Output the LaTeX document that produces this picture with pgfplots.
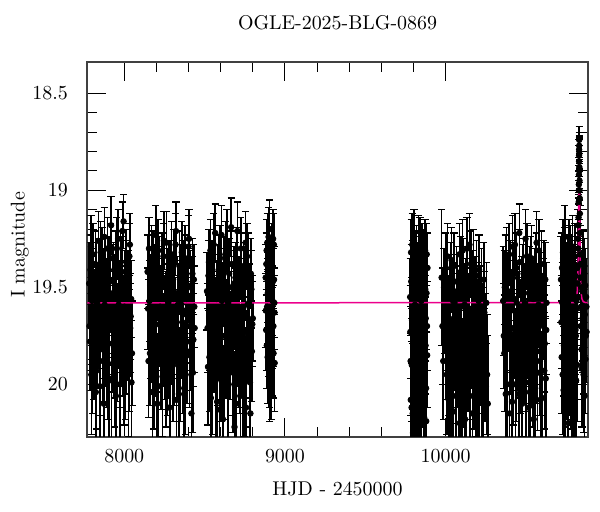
\documentclass[border=0pt]{standalone}
\usepackage{pgfplots}
\usepackage{pgfplotstable}
\pgfplotsset{compat=1.18}

% OGLE I-band photometry: HJD-2450000, I mag, error
\pgfplotstableread{
x y e
7782 19.48 0.21
7787 19.78 0.25
7793 19.29 0.16
7798 19.65 0.22
7803 19.87 0.28
7809 19.52 0.19
7814 19.74 0.24
7820 19.38 0.17
7826 19.93 0.30
7831 19.58 0.20
7837 19.69 0.23
7842 19.43 0.18
7848 20.01 0.33
7853 19.32 0.16
7859 19.61 0.21
7865 19.82 0.27
7870 19.49 0.19
7876 19.24 0.15
7881 19.76 0.25
7887 19.67 0.22
7893 19.55 0.20
7898 19.89 0.29
7904 19.41 0.17
7909 19.72 0.23
7915 19.35 0.18
7921 19.98 0.31
7926 19.63 0.21
7932 19.46 0.19
7937 19.81 0.26
7943 19.53 0.20
7948 20.06 0.35
7954 19.30 0.16
7960 19.70 0.22
7965 19.59 0.21
7971 19.85 0.27
7976 19.39 0.18
7982 19.75 0.24
7988 19.21 0.15
7993 19.66 0.22
7999 19.91 0.30
8004 19.51 0.20
8010 19.79 0.26
8015 19.44 0.18
8021 19.62 0.21
8026 19.95 0.32
8032 19.34 0.17
8037 19.71 0.23
8043 19.56 0.20
8048 19.84 0.27
7784 19.70 0.23
7790 19.41 0.18
7795 19.95 0.31
7800 19.57 0.20
7806 19.33 0.16
7811 19.82 0.26
7817 19.62 0.21
7823 20.04 0.34
7828 19.45 0.18
7834 19.77 0.25
7839 19.26 0.15
7845 19.66 0.22
7850 19.88 0.28
7856 19.51 0.19
7862 19.36 0.17
7867 19.73 0.24
7873 20.10 0.36
7878 19.59 0.21
7884 19.43 0.18
7890 19.85 0.27
7895 19.30 0.16
7901 19.64 0.22
7906 19.97 0.31
7912 19.53 0.20
7918 19.18 0.15
7923 19.79 0.25
7929 19.47 0.19
7934 19.68 0.22
7940 19.92 0.30
7945 19.38 0.17
7951 19.61 0.21
7957 19.83 0.26
7962 19.25 0.15
7968 19.56 0.20
7973 20.00 0.33
7979 19.71 0.23
7985 19.42 0.18
7990 19.80 0.26
7996 19.16 0.14
8001 19.60 0.21
8007 19.89 0.29
8012 19.37 0.17
8018 19.74 0.24
8023 19.50 0.19
8029 19.86 0.28
8035 19.28 0.16
8040 19.65 0.22
8045 19.99 0.32
8145 19.42 0.19
8151 19.88 0.29
8157 19.57 0.21
8163 19.73 0.24
8169 19.36 0.18
8175 20.04 0.33
8181 19.62 0.21
8187 19.47 0.19
8193 19.80 0.26
8199 19.55 0.20
8205 20.10 0.36
8211 19.31 0.16
8217 19.69 0.22
8223 19.60 0.21
8229 19.86 0.27
8235 19.40 0.18
8241 19.77 0.24
8247 19.26 0.15
8253 19.66 0.22
8259 19.92 0.30
8265 19.50 0.20
8271 19.81 0.26
8277 19.45 0.18
8283 19.63 0.21
8289 19.97 0.32
8295 19.33 0.17
8301 19.72 0.23
8307 19.56 0.20
8313 19.84 0.27
8319 19.28 0.16
8325 20.08 0.35
8331 19.53 0.19
8337 19.74 0.23
8343 19.39 0.18
8349 19.90 0.29
8355 19.59 0.21
8361 19.68 0.22
8367 19.44 0.18
8373 20.02 0.33
8379 19.35 0.17
8385 19.64 0.21
8391 19.83 0.27
8397 19.49 0.19
8403 19.25 0.15
8409 19.78 0.25
8415 19.67 0.22
8421 19.54 0.20
8427 19.94 0.31
8433 19.46 0.18
8438 19.71 0.23
8148 19.61 0.21
8154 19.30 0.16
8160 19.84 0.27
8166 19.52 0.19
8172 19.75 0.24
8178 19.38 0.17
8184 19.93 0.30
8190 19.66 0.22
8196 19.23 0.15
8202 19.79 0.25
8208 19.48 0.19
8214 20.01 0.33
8220 19.42 0.18
8226 19.70 0.23
8232 19.55 0.20
8238 19.96 0.31
8244 19.34 0.17
8250 19.82 0.26
8256 19.63 0.21
8262 19.27 0.16
8268 19.88 0.28
8274 19.58 0.20
8280 20.12 0.36
8286 19.44 0.18
8292 19.76 0.24
8298 19.51 0.19
8304 19.90 0.29
8310 19.37 0.17
8316 19.67 0.22
8322 19.21 0.15
8328 19.81 0.26
8334 19.59 0.21
8340 20.05 0.34
8346 19.46 0.18
8352 19.73 0.24
8358 19.32 0.16
8364 19.87 0.28
8370 19.62 0.21
8376 19.41 0.18
8382 19.95 0.31
8388 19.56 0.20
8394 19.70 0.23
8400 19.29 0.16
8406 19.85 0.27
8412 19.50 0.19
8418 20.15 0.37
8424 19.43 0.18
8430 19.77 0.24
8436 19.60 0.21
8515 19.52 0.20
8521 19.91 0.30
8527 19.37 0.17
8533 19.70 0.23
8539 20.07 0.34
8545 19.45 0.19
8551 19.79 0.25
8557 19.28 0.16
8563 19.63 0.21
8569 19.98 0.31
8575 19.56 0.20
8581 19.84 0.27
8587 19.41 0.18
8593 20.13 0.36
8599 19.66 0.22
8605 19.23 0.15
8611 19.75 0.24
8617 19.50 0.20
8623 19.89 0.29
8629 19.33 0.17
8635 19.68 0.22
8641 20.03 0.33
8647 19.58 0.21
8653 19.43 0.18
8659 19.82 0.26
8665 19.19 0.15
8671 19.72 0.23
8677 19.94 0.31
8683 19.48 0.19
8689 19.61 0.21
8695 20.10 0.35
8701 19.36 0.17
8707 19.77 0.24
8713 19.54 0.20
8719 19.87 0.28
8725 19.30 0.16
8731 19.65 0.22
8737 20.05 0.34
8743 19.46 0.19
8749 19.73 0.23
8755 19.27 0.16
8761 19.92 0.30
8767 19.59 0.21
8773 19.40 0.18
8779 19.81 0.26
8785 20.15 0.36
8791 19.51 0.20
8797 19.69 0.22
8518 19.71 0.23
8524 19.44 0.18
8530 19.86 0.28
8536 19.31 0.16
8542 19.62 0.21
8548 19.95 0.31
8554 19.53 0.20
8560 19.78 0.25
8566 19.22 0.15
8572 19.67 0.22
8578 20.09 0.35
8584 19.47 0.19
8590 19.74 0.24
8596 19.35 0.17
8602 19.90 0.29
8608 19.57 0.20
8614 20.18 0.38
8620 19.42 0.18
8626 19.69 0.22
8632 19.81 0.26
8638 19.26 0.16
8644 19.60 0.21
8650 20.00 0.33
8656 19.50 0.19
8662 19.76 0.24
8668 19.38 0.17
8674 19.88 0.28
8680 19.64 0.22
8686 20.22 0.39
8692 19.45 0.18
8698 19.72 0.23
8704 19.21 0.15
8710 19.85 0.27
8716 19.55 0.20
8722 20.06 0.34
8728 19.39 0.17
8734 19.79 0.25
8740 19.61 0.21
8746 19.96 0.31
8752 19.48 0.19
8758 20.12 0.36
8764 19.34 0.17
8770 19.75 0.24
8776 19.58 0.20
8782 19.99 0.32
8788 19.43 0.18
8794 19.83 0.26
8800 19.66 0.22
8880 19.45 0.17
8883 19.72 0.21
8886 19.31 0.16
8889 19.60 0.19
8892 19.86 0.24
8895 19.50 0.18
8898 19.24 0.15
8901 19.68 0.20
8904 19.93 0.26
8907 19.41 0.17
8910 19.78 0.22
8913 19.55 0.18
8916 19.35 0.16
8919 19.64 0.19
8922 19.83 0.23
8925 19.47 0.17
8928 19.70 0.21
8931 19.28 0.16
8934 19.58 0.18
8936 19.89 0.25
8881 19.62 0.19
8884 19.38 0.16
8887 19.80 0.22
8890 19.27 0.15
8893 19.53 0.18
8896 19.75 0.21
8899 19.43 0.17
8902 19.88 0.24
8905 19.20 0.15
8908 19.66 0.20
8911 19.49 0.18
8914 19.92 0.26
8917 19.33 0.16
8920 19.71 0.21
8923 19.57 0.18
8926 19.25 0.15
8929 19.84 0.23
8932 19.46 0.17
8935 19.63 0.19
9779 19.55 0.20
9782 19.88 0.28
9785 19.32 0.17
9788 20.12 0.34
9791 19.67 0.22
9794 19.44 0.18
9797 20.25 0.38
9800 19.76 0.24
9803 19.26 0.16
9806 19.95 0.30
9809 19.59 0.21
9812 20.05 0.33
9815 19.38 0.17
9818 19.82 0.26
9821 20.20 0.37
9824 19.50 0.19
9827 19.71 0.23
9830 19.29 0.16
9833 19.99 0.31
9836 19.63 0.21
9839 20.30 0.40
9842 19.42 0.18
9845 19.86 0.27
9848 19.57 0.20
9851 20.09 0.34
9854 19.34 0.17
9857 19.74 0.24
9860 19.93 0.29
9863 19.48 0.19
9866 20.17 0.36
9869 19.65 0.22
9872 19.31 0.16
9875 19.80 0.25
9878 20.02 0.32
9881 19.53 0.20
9884 19.70 0.23
9887 19.40 0.18
9780 19.73 0.24
9783 20.08 0.34
9786 19.47 0.19
9789 19.90 0.29
9792 19.28 0.16
9795 20.15 0.36
9798 19.60 0.21
9801 20.03 0.33
9804 19.40 0.18
9807 19.79 0.25
9810 20.28 0.40
9813 19.52 0.19
9816 19.95 0.30
9819 19.35 0.17
9822 19.68 0.22
9825 20.10 0.35
9828 19.45 0.18
9831 19.84 0.27
9834 20.22 0.38
9837 19.56 0.20
9840 19.30 0.16
9843 19.97 0.31
9846 19.72 0.23
9849 20.33 0.40
9852 19.43 0.18
9855 19.89 0.29
9858 19.61 0.21
9861 20.13 0.35
9864 19.37 0.17
9867 19.77 0.25
9870 20.00 0.32
9873 19.51 0.19
9876 19.66 0.22
9879 20.19 0.37
9882 19.33 0.16
9885 19.85 0.27
9975 19.45 0.35
9985 19.88 0.30
9995 19.62 0.22
10001 19.40 0.18
10007 19.95 0.31
10013 19.70 0.23
10019 20.08 0.34
10025 19.52 0.19
10031 19.84 0.27
10037 19.36 0.17
10043 19.76 0.24
10049 20.14 0.36
10055 19.58 0.20
10061 19.91 0.29
10067 19.47 0.18
10073 19.69 0.22
10079 20.03 0.33
10085 19.33 0.16
10091 19.80 0.25
10097 19.60 0.21
10103 19.97 0.31
10109 19.43 0.18
10115 19.73 0.23
10121 20.18 0.37
10127 19.55 0.20
10133 19.30 0.16
10139 19.86 0.28
10145 19.65 0.22
10151 20.06 0.33
10157 19.38 0.17
10163 19.78 0.24
10169 19.50 0.19
10175 19.93 0.30
10181 19.67 0.22
10187 20.11 0.35
10193 19.44 0.18
10199 19.82 0.26
10205 19.57 0.20
10211 19.99 0.31
10217 19.72 0.23
10223 19.49 0.19
10229 19.87 0.28
10235 20.04 0.33
10241 19.63 0.21
10249 19.77 0.24
10258 19.95 0.31
9980 19.70 0.30
9990 19.50 0.20
9998 19.82 0.26
10004 19.62 0.21
10010 19.34 0.17
10016 19.88 0.28
10022 19.66 0.22
10028 20.12 0.36
10034 19.45 0.18
10040 19.98 0.31
10046 19.57 0.20
10052 19.39 0.17
10058 19.78 0.25
10064 20.06 0.34
10070 19.52 0.19
10076 19.85 0.27
10082 19.64 0.21
10088 20.20 0.38
10094 19.42 0.18
10100 19.74 0.24
10106 19.31 0.16
10112 19.92 0.30
10118 19.59 0.21
10124 19.81 0.26
10130 20.01 0.33
10136 19.47 0.18
10142 19.70 0.23
10148 19.28 0.16
10154 19.89 0.29
10160 19.61 0.21
10166 20.15 0.37
10172 19.37 0.17
10178 19.76 0.24
10184 19.54 0.20
10190 19.96 0.31
10196 19.68 0.22
10202 20.09 0.35
10208 19.41 0.18
10214 19.84 0.27
10220 19.60 0.21
10226 20.02 0.33
10232 19.73 0.23
10238 19.46 0.19
10244 19.90 0.29
10253 19.58 0.21
10262 20.10 0.35
10358 19.57 0.28
10365 19.84 0.30
10371 19.41 0.18
10377 19.70 0.23
10383 20.00 0.32
10389 19.52 0.19
10395 19.33 0.16
10401 19.79 0.25
10407 19.62 0.21
10413 20.09 0.35
10419 19.45 0.18
10425 19.74 0.23
10431 19.28 0.16
10437 19.90 0.29
10443 19.58 0.20
10449 19.67 0.22
10455 20.05 0.33
10461 19.37 0.17
10467 19.81 0.26
10473 19.54 0.20
10479 19.96 0.31
10485 19.43 0.18
10491 19.72 0.23
10497 19.25 0.15
10503 19.86 0.28
10509 19.61 0.21
10515 20.12 0.36
10521 19.48 0.19
10527 19.77 0.24
10533 19.35 0.17
10539 19.92 0.30
10545 19.56 0.20
10551 19.69 0.22
10557 20.02 0.33
10563 19.40 0.18
10569 19.83 0.27
10575 19.60 0.21
10581 19.31 0.16
10587 19.88 0.28
10593 19.51 0.19
10599 20.07 0.34
10605 19.65 0.22
10611 19.44 0.18
10617 19.79 0.25
10623 19.97 0.31
10628 19.58 0.21
10362 19.75 0.27
10368 19.50 0.19
10374 20.05 0.34
10380 19.36 0.17
10386 19.80 0.25
10392 19.62 0.21
10398 20.15 0.37
10404 19.44 0.18
10410 19.71 0.23
10416 19.29 0.16
10422 19.91 0.30
10428 19.56 0.20
10434 20.00 0.33
10440 19.40 0.18
10446 19.78 0.25
10452 19.63 0.21
10458 19.22 0.15
10464 19.87 0.28
10470 19.68 0.22
10476 20.10 0.35
10482 19.47 0.19
10488 19.83 0.27
10494 19.58 0.20
10500 19.99 0.32
10506 19.34 0.17
10512 19.73 0.24
10518 19.53 0.20
10524 20.04 0.34
10530 19.42 0.18
10536 19.85 0.27
10542 19.65 0.22
10548 20.18 0.38
10554 19.49 0.19
10560 19.76 0.24
10566 19.27 0.16
10572 19.94 0.30
10578 19.59 0.21
10584 19.70 0.23
10590 20.08 0.35
10596 19.38 0.17
10602 19.82 0.26
10608 19.55 0.20
10614 19.93 0.30
10620 19.46 0.19
10626 19.72 0.23
10718 19.46 0.22
10722 19.86 0.29
10726 19.58 0.21
10730 19.32 0.17
10734 20.03 0.33
10738 19.70 0.23
10742 19.24 0.16
10746 19.92 0.30
10750 19.50 0.19
10754 19.78 0.25
10758 20.14 0.36
10762 19.41 0.18
10766 19.66 0.22
10770 19.88 0.28
10774 19.35 0.17
10778 19.73 0.24
10782 19.99 0.31
10786 19.54 0.20
10790 19.29 0.16
10794 19.83 0.27
10798 19.62 0.21
10802 20.08 0.34
10806 19.44 0.18
10810 19.75 0.24
10814 19.57 0.20
10818 19.90 0.29
10821 19.48 0.19
10823 19.39 0.17
10825 19.30 0.15
10826 19.18 0.14
10827 19.14 0.12
10828 19.06 0.11
10829 18.97 0.10
10829.5 18.92 0.09
10830 18.85 0.08
10830.5 18.79 0.07
10831 18.74 0.07
10831.5 18.81 0.08
10832 18.88 0.08
10832.5 18.90 0.09
10833 18.95 0.10
10834 19.04 0.11
10835 19.12 0.12
10836 19.22 0.14
10837 19.33 0.15
10839 19.45 0.18
10842 19.60 0.20
10846 19.82 0.26
10850 19.52 0.19
10854 19.71 0.23
10858 19.95 0.30
10862 19.43 0.18
10866 19.64 0.21
10870 19.87 0.28
10874 19.55 0.20
10877 19.73 0.23
10720 19.68 0.24
10724 19.40 0.18
10728 19.95 0.31
10732 19.55 0.20
10736 19.80 0.26
10740 19.36 0.17
10744 20.10 0.35
10748 19.63 0.21
10752 19.45 0.18
10756 19.89 0.29
10760 19.58 0.20
10764 20.20 0.38
10768 19.31 0.16
10772 19.74 0.24
10776 19.52 0.19
10780 19.93 0.30
10784 19.42 0.18
10788 19.69 0.23
10792 20.05 0.33
10796 19.47 0.19
10800 19.85 0.27
10804 19.34 0.17
10808 19.72 0.23
10812 19.98 0.32
10816 19.61 0.21
10819 19.40 0.18
10822 19.55 0.19
10824 19.25 0.15
10828.5 19.00 0.10
10830.2 18.82 0.08
10831.2 18.77 0.07
10833.5 19.00 0.10
10838 19.38 0.16
10840 19.70 0.23
10844 19.50 0.19
10848 19.92 0.30
10852 19.66 0.22
10856 19.38 0.17
10860 19.80 0.25
10864 20.06 0.34
10868 19.49 0.19
10872 19.75 0.24
10876 19.60 0.21
}\photdata

% microlensing model curve
\pgfplotstableread{
x y
7760 19.580
10800 19.579
10806 19.574
10814 19.559
10818 19.534
10821 19.489
10823 19.431
10825 19.332
10826 19.260
10827 19.170
10828 19.063
10829 18.950
10830 18.856
10831 18.818
10832 18.856
10833 18.950
10834 19.063
10835 19.170
10836 19.260
10837 19.332
10839 19.431
10841 19.489
10844 19.534
10848 19.559
10856 19.574
10871 19.579
10890 19.580
}\modeldata

\begin{document}
\begin{tikzpicture}
\path[use as bounding box] (-43.65bp,-37.65bp) rectangle (256.35bp,218.35bp);
\begin{axis}[
  scale only axis,
  width=250.2bp, height=187.2bp,
  xmin=7770, xmax=10884,
  ymin=18.34, ymax=20.27,
  y dir=reverse,
  xtick={8000,9000,10000},
  ytick={18.5,19,19.5,20},
  scaled x ticks=false,
  minor x tick num=4,
  minor y tick num=4,
  tick align=inside,
  tick pos=both,
  major tick length=9.5bp,
  minor tick length=4.75bp,
  /pgf/number format/1000 sep={},
  axis line style={black!75, line width=0.8bp},
  every tick/.append style={black, line width=0.5bp},
  xticklabel style={yshift=-3.2bp},
  yticklabel style={xshift=-6.2bp},
  title={OGLE-2025-BLG-0869},
  title style={at={(axis description cs:0.5,1.057)}, anchor=base},
  xlabel={HJD - 2450000},
  xlabel style={at={(axis description cs:0.5,-0.158)}, anchor=base},
  ylabel={I magnitude},
  ylabel style={at={(axis description cs:-0.135,0.512)}, anchor=center},
]
\addplot[only marks, mark=*, mark size=1.4bp, black,
  error bars/.cd, y dir=both, y explicit,
  error bar style={black, line width=0.75bp},
  error mark options={rotate=90, black, line width=0.6bp, mark size=1.8bp}]
  table[x=x, y=y, y error=e] {\photdata};
\addplot[magenta, line width=0.75bp] table[x=x, y=y] {\modeldata};
\end{axis}
\end{tikzpicture}
\end{document}
